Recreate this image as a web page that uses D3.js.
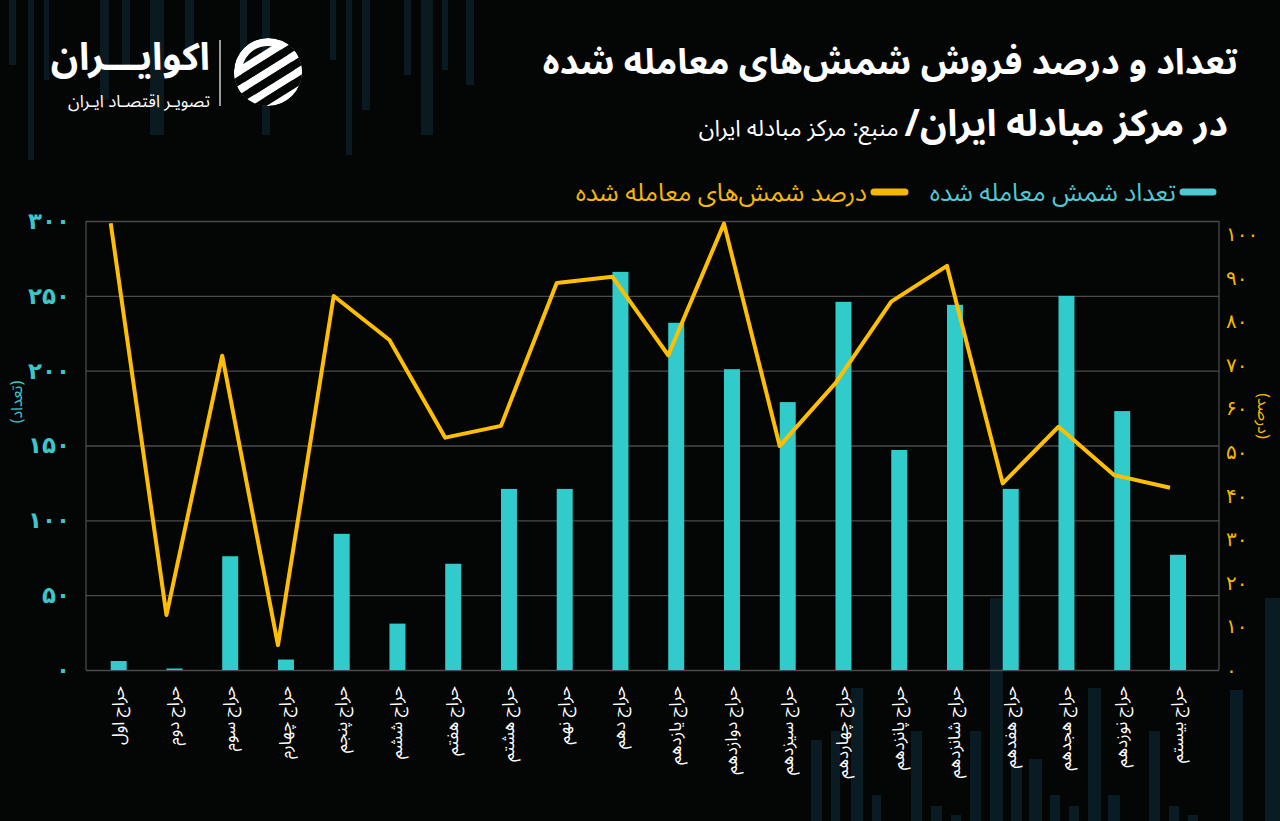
<!DOCTYPE html>
<html lang="fa">
<head>
<meta charset="utf-8">
<script src="https://cdn.jsdelivr.net/npm/d3@7"></script>
<style>
  html, body { margin: 0; padding: 0; background: #040505; }
  svg { display: block; }
  text { font-family: "Noto Sans Arabic", "DejaVu Sans", "Noto Sans", sans-serif; }
</style>
</head>
<body>
<svg id="chart" width="1280" height="821"></svg>
<script>
// ---------- data ----------
const categories = ["حراج اول","حراج دوم","حراج سوم","حراج چهارم","حراج پنجم","حراج ششم","حراج هفتم","حراج هشتم","حراج نهم","حراج دهم","حراج یازدهم","حراج دوازدهم","حراج سیزدهم","حراج چهاردهم","حراج پانزدهم","حراج شانزدهم","حراج هفدهم","حراج هجدهم","حراج نوزدهم","حراج بیستم"];
const countValues = [6, 1, 76, 7, 91, 31, 71, 121, 121, 266, 232, 201, 179, 246, 147, 244, 121, 250, 173, 77];
const percentValues = [102.5, 12.6, 72.1, 5.7, 85.8, 75.7, 53.3, 56.0, 88.8, 90.2, 72.2, 102.4, 51.4, 65.8, 84.5, 92.7, 42.8, 55.8, 44.7, 41.8];
const leftTicks = [0, 50, 100, 150, 200, 250, 300];
const rightTicks = [0, 10, 20, 30, 40, 50, 60, 70, 80, 90, 100];
const titleLine1 = "تعداد و درصد فروش شمش‌های معامله شده";
const titleLine2 = "در مرکز مبادله ایران/";
const sourceText = "منبع: مرکز مبادله ایران";
const seriesNames = ["تعداد شمش معامله شده", "درصد شمش‌های معامله شده"];
const leftAxisTitle = "(تعداد)";
const rightAxisTitle = "(درصد)";
const brandName = "اکوایـــران";
const brandSub = "تصویـر اقتصـاد ایـران";

// decorative background bars (x, width, top, bottom)
const decoTop = [[9,7,0,65],[28,6,0,160],[44,5,0,80],[100,9,0,100],[122,8,0,70],[150,14,0,135],[185,9,0,60],[240,7,0,75],[262,8,0,135],[330,6,0,60],[346,6,0,155],[362,8,0,110],[404,7,0,75],[421,12,0,135],[442,6,0,70],[466,8,0,85]];
const decoBottom = [[811,11,740,821],[831,9,731,821],[851,12,688,821],[872,9,795,821],[911,11,731,821],[931,11,806,821],[951,10,815,821],[970,11,731,821],[990,13,598,821],[1011,11,765,821],[1029,13,759,821],[1050,10,795,821],[1069,10,806,821],[1088,13,688,821],[1108,12,795,821],[1149,11,731,821],[1169,10,806,821],[1188,10,815,821],[1230,13,690,821],[1265,15,598,821]];

// ---------- helpers ----------
const faDigits = "۰۱۲۳۴۵۶۷۸۹";
const toFa = v => String(v).replace(/[0-9]/g, d => faDigits[+d]);

const svg = d3.select("#chart");
const W = 1280, H = 821;
svg.append("rect").attr("width", W).attr("height", H).attr("fill", "#040505");

// decorations
const deco = svg.append("g");
deco.selectAll("rect.dt").data(decoTop).join("rect")
  .attr("x", d => d[0]).attr("width", d => d[1])
  .attr("y", d => d[2]).attr("height", d => d[3] - d[2])
  .attr("fill", "#0a1a21");
deco.selectAll("rect.db").data(decoBottom).join("rect")
  .attr("x", d => d[0]).attr("width", d => d[1])
  .attr("y", d => d[2]).attr("height", d => d[3] - d[2])
  .attr("fill", "#091c23");

// ---------- plot geometry ----------
const plotL = 86, plotR = 1219, plotT = 221, plotB = 670;

const x = d3.scalePoint().domain(categories).range([110.7, 1170]);
const barW = 16;
const yL = d3.scaleLinear().domain([0, 300]).range([plotB, plotT]);
const yR = d3.scaleLinear().domain([0, 103]).range([plotB, plotT]);

// gridlines
const grid = svg.append("g").attr("transform", `translate(${plotL},0)`)
  .call(d3.axisLeft(yL).tickValues(leftTicks).tickSize(-(plotR - plotL)).tickFormat(""));
grid.select(".domain").remove();
grid.selectAll(".tick line").attr("stroke", "#4b4b4b").attr("stroke-width", 1.3);

// frame verticals
svg.append("line").attr("x1", plotL).attr("x2", plotL).attr("y1", plotT).attr("y2", plotB)
  .attr("stroke", "#4b4b4b").attr("stroke-width", 1.3);
svg.append("line").attr("x1", plotR).attr("x2", plotR).attr("y1", plotT).attr("y2", plotB)
  .attr("stroke", "#4b4b4b").attr("stroke-width", 1.3);

// left axis labels
const axL = svg.append("g").attr("transform", `translate(${plotL},0)`)
  .call(d3.axisLeft(yL).tickValues(leftTicks).tickSize(0).tickPadding(16).tickFormat(toFa));
axL.select(".domain").remove();
axL.selectAll("text").attr("fill", "#3cc6cb").attr("font-size", 23).attr("font-weight", "bold")
  .style("font-family", '"DejaVu Sans", sans-serif');

// right axis labels
const axR = svg.append("g").attr("transform", `translate(${plotR},0)`)
  .call(d3.axisRight(yR).tickValues(rightTicks).tickSize(0).tickPadding(7).tickFormat(toFa));
axR.select(".domain").remove();
axR.selectAll("text").attr("fill", "#f5b800").attr("font-size", 20)
  .style("font-family", '"DejaVu Sans", sans-serif');

// bars
svg.append("g").selectAll("rect").data(categories).join("rect")
  .attr("x", d => x(d))
  .attr("width", barW)
  .attr("y", (d, i) => yL(countValues[i]))
  .attr("height", (d, i) => plotB - yL(countValues[i]))
  .attr("fill", "#32cbcb");

// line
const line = d3.line().x((d, i) => x(categories[i])).y(d => yR(d));
svg.append("path").datum(percentValues)
  .attr("d", line).attr("fill", "none")
  .attr("stroke", "#ffbf00").attr("stroke-width", 4)
  .attr("stroke-linejoin", "round").attr("stroke-linecap", "butt");

// x-axis labels
const xl = svg.append("g");
xl.selectAll("text").data(categories).join("text")
  .attr("transform", d => `translate(${x(d) + barW / 2 - 1},686) rotate(-90)`)
  .attr("dy", "0.35em")
  .style("direction", "rtl")
  .attr("text-anchor", "start")
  .attr("fill", "#ffffff")
  .attr("font-size", 17)
  .text(d => d);

// axis titles
svg.append("text").attr("transform", "translate(16,402) rotate(-90)")
  .attr("text-anchor", "middle").attr("dy", "0.35em")
  .style("direction", "rtl")
  .attr("fill", "#3cc6cb").attr("font-size", 16).text(leftAxisTitle);
svg.append("text").attr("transform", "translate(1264,416) rotate(90)")
  .attr("text-anchor", "middle").attr("dy", "0.35em")
  .style("direction", "rtl")
  .attr("fill", "#f5b800").attr("font-size", 16).text(rightAxisTitle);

// legend
const lg = svg.append("g");
lg.append("line").attr("x1", 1183).attr("x2", 1213).attr("y1", 192).attr("y2", 192)
  .attr("stroke", "#4fc9d4").attr("stroke-width", 7).attr("stroke-linecap", "round");
lg.append("text").attr("x", 1176).attr("y", 192).attr("dy", "0.35em")
  .style("direction", "rtl").attr("text-anchor", "start")
  .attr("fill", "#4fc9d4").attr("font-size", 25).text(seriesNames[0]);
lg.append("line").attr("x1", 874).attr("x2", 905).attr("y1", 192).attr("y2", 192)
  .attr("stroke", "#f5b800").attr("stroke-width", 7).attr("stroke-linecap", "round");
lg.append("text").attr("x", 867).attr("y", 192).attr("dy", "0.35em")
  .style("direction", "rtl").attr("text-anchor", "start")
  .attr("fill", "#f5b800").attr("font-size", 25).text(seriesNames[1]);

// title
svg.append("text").attr("x", 1238).attr("y", 74)
  .style("direction", "rtl").attr("text-anchor", "start")
  .attr("fill", "#ffffff").attr("font-size", 36).attr("font-weight", "bold").text(titleLine1);
const t2 = svg.append("text").attr("x", 1228).attr("y", 136)
  .style("direction", "rtl").attr("text-anchor", "start").attr("fill", "#ffffff");
t2.append("tspan").attr("font-size", 37).attr("font-weight", "bold").text(titleLine2);
t2.append("tspan").attr("font-size", 23).attr("font-weight", "normal").text(" " + sourceText);

// brand
svg.append("text").attr("x", 210).attr("y", 70)
  .style("direction", "rtl").attr("text-anchor", "start")
  .attr("fill", "#ffffff").attr("font-size", 38).attr("font-weight", "bold").text(brandName);
svg.append("text").attr("x", 210).attr("y", 107)
  .style("direction", "rtl").attr("text-anchor", "start")
  .attr("fill", "#ffffff").attr("font-size", 17).text(brandSub);
svg.append("line").attr("x1", 220).attr("x2", 220).attr("y1", 40).attr("y2", 106)
  .attr("stroke", "#ffffff").attr("stroke-width", 1.2);

// logo icon
const defs = svg.append("defs");
defs.append("clipPath").attr("id", "logoClip").append("circle")
  .attr("cx", 268).attr("cy", 72).attr("r", 34);
const logo = svg.append("g").attr("clip-path", "url(#logoClip)");
logo.append("circle").attr("cx", 268).attr("cy", 72).attr("r", 30)
  .attr("fill", "none").attr("stroke", "#ffffff").attr("stroke-width", 8);
[ -16, 0, 16 ].forEach(off => {
  logo.append("rect").attr("x", 220).attr("y", 72 + off - 4).attr("width", 100).attr("height", 8)
    .attr("fill", "#ffffff").attr("transform", `rotate(-32,268,72)`);
});
[ -8, 8, 24 ].forEach(off => {
  logo.append("rect").attr("x", 220).attr("y", 72 + off - 4).attr("width", 100).attr("height", 8)
    .attr("fill", "#040505").attr("transform", `rotate(-32,268,72)`);
});
</script>
</body>
</html>
